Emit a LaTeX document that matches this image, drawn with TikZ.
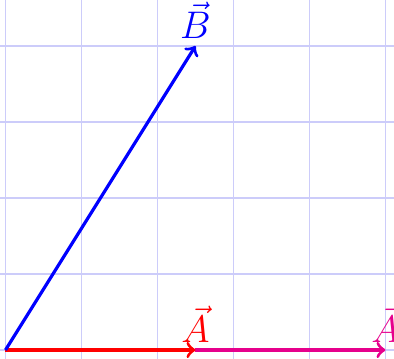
\documentclass[tikz,border=0pt]{standalone}
\definecolor{gridc}{rgb}{0.8,0.8,0.98}
\definecolor{magc}{RGB}{230,0,140}
\begin{document}
\begin{tikzpicture}[x=1cm,y=1cm,
  vec/.style={very thick,->},
  lab/.style={font=\fontsize{15}{18}\selectfont, inner sep=2.5pt}]
\useasboundingbox (-0.072,-0.118) rectangle (5.112,4.605);
\clip (-0.072,-0.118) rectangle (5.112,4.605);
\draw[gridc, line width=0.45pt] (-1,-1) grid (6,5);
\coordinate (O) at (0,0);
\coordinate (A) at (2.5,0);
\coordinate (C) at (5,0);
\coordinate (B) at (2.5,4);
\draw[vec, magc] (A) -- (C);
\draw[vec, red] (O) -- (A);
\draw[vec, blue] (O) -- (B);
\node[lab, red, above] (lA) at (A) {$\vec{A}$};
\node[lab, magc, above] (lC) at (C) {$\vec{A}$};
\node[lab, blue, above] (lB) at (B) {$\vec{B}$};
\end{tikzpicture}
\end{document}
